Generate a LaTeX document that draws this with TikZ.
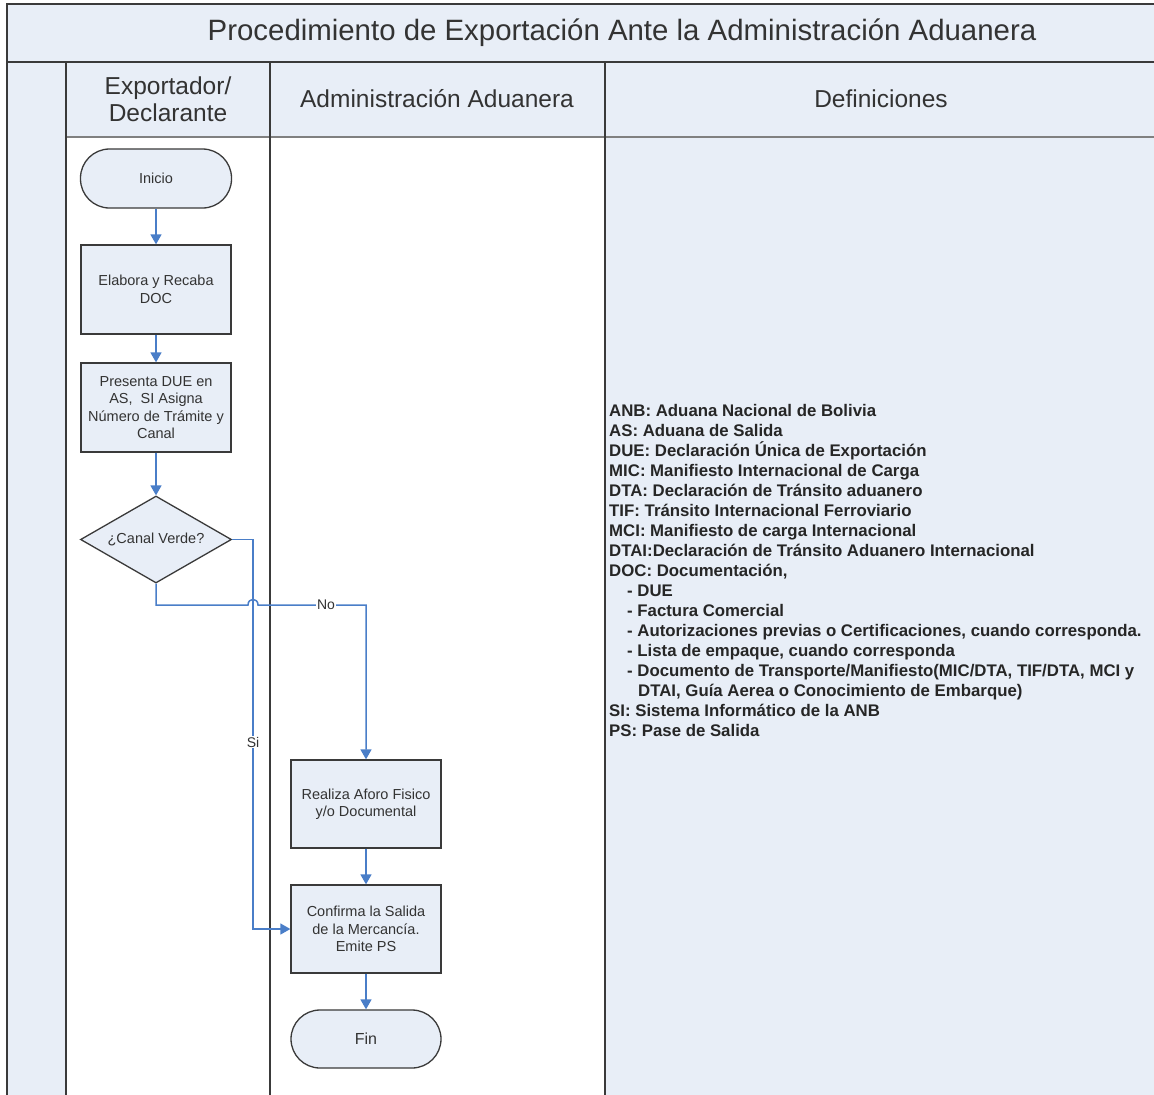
\documentclass[tikz,border=0pt]{standalone}
\usepackage{fontspec}
\setmainfont{Liberation Sans}
\usetikzlibrary{arrows.meta,shapes.geometric}
\definecolor{lb}{HTML}{E8EEF7}
\definecolor{flowblue}{HTML}{4A7EC8}
\definecolor{edgecol}{HTML}{3A3A3A}
\definecolor{txt}{HTML}{333333}
\begin{document}
\begin{tikzpicture}[x=1pt,y=-1pt,
  lane/.style={draw=edgecol, line width=2pt},
  proc/.style={draw=edgecol, fill=lb, line width=1.3pt, minimum width=150pt, minimum height=89pt,
    align=center, font=\fontsize{14.5}{17.5}\selectfont, text=txt, inner sep=2pt},
  term/.style={proc, rounded corners=29pt, minimum height=59pt},
  decis/.style={diamond, aspect=1.74, draw=edgecol, fill=lb, line width=1.3pt, minimum width=151pt,
    minimum height=87pt, inner sep=0pt, font=\fontsize{14.5}{17}\selectfont, text=txt},
  arrowline/.style={draw=flowblue, line width=1.5pt, -{Triangle[length=10pt,width=11pt]}},
  lbl/.style={fill=white, inner sep=1pt, font=\fontsize{14}{16}\selectfont, text=txt},
  headtxt/.style={font=\fontsize{24.5}{27}\selectfont, text=txt, align=center}]
\useasboundingbox (0,0) rectangle (1154,1095);
\fill[white] (0,0) rectangle (1154,1095);
% backgrounds
\fill[lb] (7,4) rectangle (1154,137);
\fill[lb] (7,62) rectangle (66,1095);
\fill[lb] (605,137) rectangle (1154,1095);
% lane lines
\draw[draw=gray, line width=1.5pt] (66,137) -- (1154,137);
\draw[lane] (7,1095) -- (7,4) -- (1154,4);
\draw[lane] (7,62) -- (1154,62);
\draw[lane] (66,62) -- (66,1095);
\draw[lane] (270,62) -- (270,1095);
\draw[lane] (605,62) -- (605,1095);
% titles
\node[font=\fontsize{29.4}{32}\selectfont, text=txt] (title) at (622,33) {Procedimiento de Exportación Ante la Administración Aduanera};
\node[headtxt] (h1) at (168,99) {Exportador/\\Declarante};
\node[headtxt] (h2) at (437,99) {Administración Aduanera};
\node[headtxt] (h3) at (881,99) {Definiciones};
% definitions
\node[anchor=north west, inner sep=0pt, align=left, text=black!85,
  font=\bfseries\fontsize{16.8}{20}\selectfont] (defs) at (609,404) {%
ANB: Aduana Nacional de Bolivia\\
AS: Aduana de Salida\\
DUE: Declaración Única de Exportación\\
MIC: Manifiesto Internacional de Carga\\
DTA: Declaración de Tránsito aduanero\\
TIF: Tránsito Internacional Ferroviario\\
MCI: Manifiesto de carga Internacional\\
DTAI:Declaración de Tránsito Aduanero Internacional\\
DOC: Documentación,\\
\hspace*{18pt}- DUE\\
\hspace*{18pt}- Factura Comercial\\
\hspace*{18pt}- Autorizaciones previas o Certificaciones, cuando corresponda.\\
\hspace*{18pt}- Lista de empaque, cuando corresponda\\
\hspace*{18pt}- Documento de Transporte/Manifiesto(MIC/DTA, TIF/DTA, MCI y\\
\hspace*{29pt}DTAI, Guía Aerea o Conocimiento de Embarque)\\
SI: Sistema Informático de la ANB\\
PS: Pase de Salida};
% flow nodes
\node[term, minimum width=151pt] (inicio) at (156,178.5) {Inicio};
\node[proc] (elabora) at (156,289.5) {Elabora y Recaba\\DOC};
\node[proc] (presenta) at (156,407.5) {Presenta DUE en\\AS,\ \ SI Asigna\\Número de Trámite y\\Canal};
\node[decis] (dec) at (156,539.5) {¿Canal Verde?};
\node[proc, minimum height=88pt] (realiza) at (366,804) {Realiza Aforo Fisico\\y/o Documental};
\node[proc, minimum height=88pt] (confirma) at (366,929) {Confirma la Salida\\de la Mercancía.\\Emite PS};
\node[term, minimum height=58pt, font=\fontsize{16}{18}\selectfont] (fin) at (366,1039) {Fin};
% connectors
\draw[arrowline] (inicio) -- (elabora);
\draw[arrowline] (elabora) -- (presenta);
\draw[arrowline] (presenta) -- (dec);
\coordinate (n1) at (156,605);
\coordinate (h1a) at (248,605);
\coordinate (h1b) at (258,605);
\coordinate (n2) at (366,605);
\draw[arrowline] (dec.south) -- (n1) -- (h1a) .. controls (248,597.5) and (258,597.5) .. (h1b) -- (n2) -- (realiza.north);
\node[lbl] (nolbl) at (326,605) {No};
\coordinate (s1) at (253,539.5);
\coordinate (s2) at (253,929);
\draw[arrowline] (dec.east) -- (s1) -- (s2) -- (confirma.west);
\node[lbl] (silbl) at (253,742) {Si};
\draw[arrowline] (realiza) -- (confirma);
\draw[arrowline] (confirma) -- (fin);
\end{tikzpicture}
\end{document}
